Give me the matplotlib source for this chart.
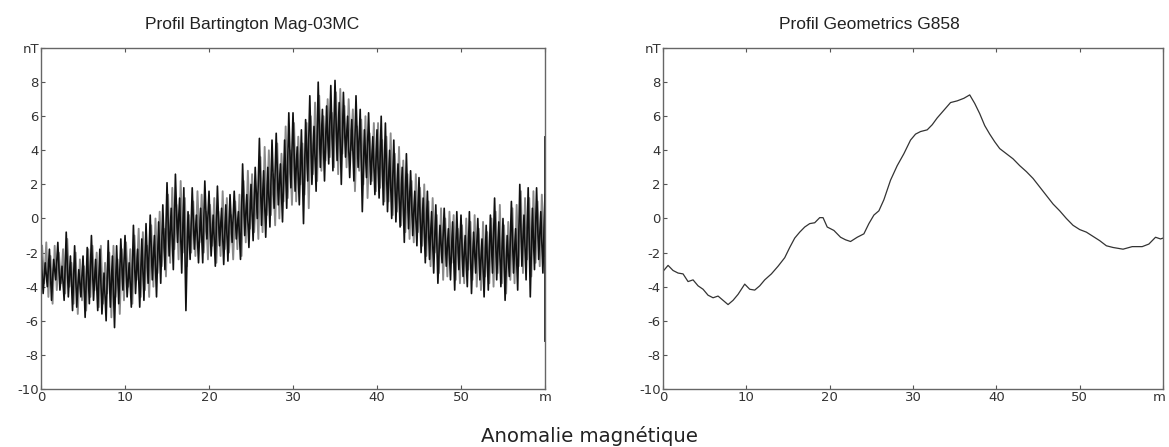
import numpy as np
import matplotlib
matplotlib.use("Agg")
import matplotlib.pyplot as plt
import matplotlib.transforms as mtransforms

# --- Profil Bartington Mag-03MC : deux traces superposées (noire / grise), pas de 0.25 m ---
bart_black = [
    -2.0, -4.4, -2.6, -4.0,  -1.8, -4.8, -2.4, -3.6,  -1.4, -4.2, -2.8, -4.8,
    -0.8, -4.6, -2.2, -5.4,  -1.6, -5.2, -3.0, -4.6,  -2.2, -5.8, -1.7, -5.0,
    -1.0, -4.8, -2.4, -5.4,  -1.8, -5.6, -3.2, -6.0,  -1.3, -5.2, -2.2, -6.4,
    -1.6, -5.0, -1.2, -4.2,  -1.0, -4.6, -2.6, -5.2,  -0.4, -4.4, -1.8, -5.2,
    -1.2, -4.8, -0.3, -3.8,   0.2, -3.6, -1.0, -4.6,  -0.2, -3.8,  0.8, -3.0,
     2.1, -2.2,  0.6, -3.0,   2.6, -1.4,  1.2, -3.2,   1.8, -5.4,  0.4, -2.4,
     1.8, -1.8,  0.2, -2.6,   0.6, -2.6,  2.2, -1.2,   1.6, -2.2,  0.2, -2.8,
     1.9, -1.6,  0.6, -2.7,   0.8, -2.5,  1.4, -1.4,   1.6, -1.2,  0.4, -2.4,
     3.2, -1.0,  1.4, -1.7,   2.0, -1.3,  3.0,  0.0,   4.7, -0.4,  2.8, -1.1,
     3.0, -0.5,  4.6,  0.6,   5.0,  0.8,  3.2, -0.2,   4.6,  0.6,  6.2,  1.8,
     6.2,  1.6,  4.2,  0.8,   5.2, -0.3,  5.8,  2.2,   7.2,  2.0,  5.4,  1.6,
     8.0,  3.0,  6.4,  2.2,   6.6,  3.2,  7.8,  2.8,   8.1,  3.4,  6.8,  2.0,
     7.4,  3.6,  6.0,  2.4,   5.8,  2.2,  7.2,  3.0,   6.4,  0.4,  5.2,  2.4,
     6.2,  2.0,  4.8,  1.4,   5.2,  1.2,  6.0,  0.8,   5.6,  0.4,  4.0,  0.0,
     4.6, -0.2,  3.2, -0.5,   3.0, -1.4,  3.8, -0.6,   2.8, -1.0,  1.6, -1.6,
     2.4, -2.0,  1.2, -2.6,   1.6, -2.4,  0.4, -3.2,   0.8, -3.8, -0.4, -2.6,
     0.6, -2.8, -0.6, -3.6,  -0.2, -4.2,  0.4, -3.0,   0.2, -3.4, -1.0, -4.0,
     0.4, -4.4, -0.8, -3.2,   0.0, -3.6, -1.2, -4.6,  -0.4, -4.2,  0.2, -3.2,
     1.2, -3.6, -0.2, -4.0,   0.0, -4.8, -1.0, -3.4,   1.0, -3.2, -0.6, -4.2,
     2.0, -2.8,  0.2, -3.6,   1.8, -4.6,  0.6, -3.0,   1.8, -2.4,  0.4, -3.2,
     1.4,
]
bart_gray = [
    -1.6, -3.8, -1.4, -4.6,  -2.2, -5.0, -1.6, -4.2,  -2.0, -3.8, -1.8, -4.4,
    -1.2, -4.0, -2.6, -5.0,  -2.0, -5.6, -2.4, -4.8,  -2.8, -5.4, -1.8, -4.6,
    -1.6, -4.2, -2.0, -5.2,  -1.6, -5.0, -2.6, -4.4,  -2.0, -5.8, -1.6, -4.6,
    -2.4, -5.6, -1.8, -4.8,  -1.4, -4.0, -1.8, -5.0,  -1.0, -3.6, -0.6, -4.6,
    -0.8, -4.2, -1.6, -4.6,  -0.4, -4.0,  0.0, -3.2,   0.4, -2.8, -0.6, -3.4,
     1.4, -2.6,  1.8, -1.8,   0.8, -2.4,  2.2, -2.0,   1.2, -2.8,  0.2, -2.0,
     1.0, -2.2,  1.6, -1.4,   1.4, -2.0,  0.4, -2.4,   0.8, -1.6,  1.2, -2.6,
     0.4, -2.2,  1.6, -1.8,   1.2, -2.0,  0.2, -2.4,   1.0, -1.8,  1.4, -2.2,
     2.2, -1.4,  2.8, -0.6,   2.6, -0.8,  1.6, -1.2,   3.6, -0.8,  4.2,  0.2,
     4.0,  0.2,  2.6, -0.4,   4.4,  0.0,  3.8,  1.0,   5.4,  1.2,  4.0,  0.8,
     5.6,  1.0,  4.8,  2.0,   4.4,  1.4,  5.6,  0.6,   6.0,  2.6,  6.8,  2.2,
     7.2,  2.8,  6.0,  3.4,   7.0,  3.6,  6.2,  3.0,   7.4,  2.6,  7.6,  3.8,
     6.6,  3.0,  7.0,  4.0,   6.4,  1.6,  5.4,  2.8,   5.8,  2.0,  6.0,  1.2,
     5.0,  2.2,  5.6,  1.6,   5.6,  1.8,  4.6,  1.0,   4.8,  1.0,  5.0,  0.2,
     3.8,  0.4,  4.2, -0.4,   3.4, -0.8,  2.6, -1.2,   2.2, -1.4,  2.6, -0.8,
     1.8, -1.6,  2.0, -2.2,   1.0, -2.8,  1.2, -2.0,   0.2, -3.2,  0.6, -3.6,
     0.0, -3.4,  0.4, -2.6,   0.2, -3.6, -0.6, -3.8,  -0.4, -3.8,  0.0, -3.0,
    -0.2, -3.6,  0.2, -4.0,  -0.6, -4.2, -0.2, -3.4,  -0.8, -3.8,  0.0, -4.0,
     0.4, -3.2,  0.8, -3.8,  -0.4, -4.4, -0.2, -3.6,   0.6, -3.8,  0.8, -2.8,
     1.6, -3.2,  1.2, -2.4,   1.2, -3.4,  1.6, -2.6,   1.0, -2.8,  1.4, -2.2,
]
# saut final de la trace sur le bord droit (x = 60 m)
bart_end = [4.8, -7.2]

# --- Profil Geometrics G858 : points relevés le long du profil ---
geo_x = [0.0, 0.6, 1.2, 1.8, 2.4, 3.0, 3.6, 4.2, 4.8, 5.4, 6.0, 6.6, 7.2, 7.8,
         8.4, 9.0, 9.8, 10.4, 11.0, 11.6, 12.2, 13.0, 13.8, 14.6, 15.2, 15.8,
         16.4, 17.0, 17.6, 18.2, 18.8, 19.2, 19.7, 20.5, 21.3, 21.9, 22.5,
         23.3, 24.1, 24.7, 25.3, 25.9, 26.5, 27.3, 28.1, 28.9, 29.7, 30.3,
         30.9, 31.7, 32.3, 32.9, 33.7, 34.5, 35.3, 36.1, 36.8, 37.4, 38.0,
         38.6, 39.2, 39.8, 40.4, 41.2, 42.0, 42.8, 43.6, 44.4, 45.2, 46.0,
         46.8, 47.6, 48.4, 49.2, 50.0, 50.8, 51.6, 52.4, 53.2, 54.0, 55.2,
         56.3, 57.5, 58.3, 59.1, 59.7, 60.0]
geo_y = [-3.1, -2.75, -3.05, -3.2, -3.25, -3.7, -3.6, -3.95, -4.15, -4.5,
         -4.65, -4.55, -4.8, -5.05, -4.8, -4.45, -3.85, -4.15, -4.2, -3.95,
         -3.6, -3.25, -2.8, -2.3, -1.7, -1.15, -0.8, -0.5, -0.3, -0.25, 0.05,
         0.05, -0.5, -0.7, -1.1, -1.25, -1.35, -1.1, -0.9, -0.3, 0.2, 0.45,
         1.1, 2.25, 3.1, 3.8, 4.6, 4.95, 5.1, 5.2, 5.5, 5.9, 6.35, 6.8, 6.9,
         7.05, 7.25, 6.75, 6.15, 5.45, 4.95, 4.5, 4.1, 3.8, 3.5, 3.1, 2.75,
         2.35, 1.85, 1.35, 0.85, 0.45, 0.0, -0.4, -0.65, -0.8, -1.05, -1.3,
         -1.6, -1.7, -1.8, -1.65, -1.65, -1.5, -1.1, -1.2, -1.15]

x_ticks = [0, 10, 20, 30, 40, 50, 60]
x_labels = ["0", "10", "20", "30", "40", "50", "m"]
y_ticks = [-10, -8, -6, -4, -2, 0, 2, 4, 6, 8, 10]
y_labels = ["-10", "-8", "-6", "-4", "-2", "0", "2", "4", "6", "8", "nT"]

fig = plt.figure(figsize=(11.69, 4.47), dpi=100)
ax1 = fig.add_axes([0.0351, 0.1298, 0.4311, 0.7628])
ax2 = fig.add_axes([0.5672, 0.1298, 0.4277, 0.7628])

xb = np.arange(len(bart_black)) * 0.25
xg = 0.125 + np.arange(len(bart_gray)) * 0.25
ax1.plot(xg, bart_gray, color="#8a8a8a", lw=1.35)
ax1.plot(xb, bart_black, color="#111111", lw=1.2)
ax1.plot([60, 60], bart_end, color="#222222", lw=1.3)

ax2.plot(geo_x, geo_y, color="#333333", lw=0.9)

for ax in (ax1, ax2):
    ax.set_xlim(0, 60)
    ax.set_ylim(-10, 10)
    ax.set_xticks(x_ticks)
    ax.set_xticklabels(x_labels)
    ax.set_yticks(y_ticks)
    ax.set_yticklabels(y_labels)
    ax.tick_params(direction="in", length=3, width=0.8, color="#555555",
                   labelsize=9.5, labelcolor="#333333", pad=1.5,
                   top=True, right=False)
    for sp in ax.spines.values():
        sp.set_color("#666666")
        sp.set_linewidth(1.0)

# décale l'étiquette "m" du profil de droite pour qu'elle reste dans la figure
m_label = ax2.get_xticklabels()[-1]
m_label.set_transform(m_label.get_transform() +
                      mtransforms.ScaledTranslation(-4 / 100, 0, fig.dpi_scale_trans))

fig.text(0.216, 0.945, "Profil Bartington Mag-03MC", ha="center", va="center",
         fontsize=12.5, family="Liberation Sans", color="#222222")
fig.text(0.744, 0.945, "Profil Geometrics G858", ha="center", va="center",
         fontsize=12.5, family="Liberation Sans", color="#222222")
fig.text(0.504, 0.025, "Anomalie magnétique", ha="center", va="center",
         fontsize=14.2, color="#222222")

fig.savefig("out.png", dpi=100, facecolor="white")
